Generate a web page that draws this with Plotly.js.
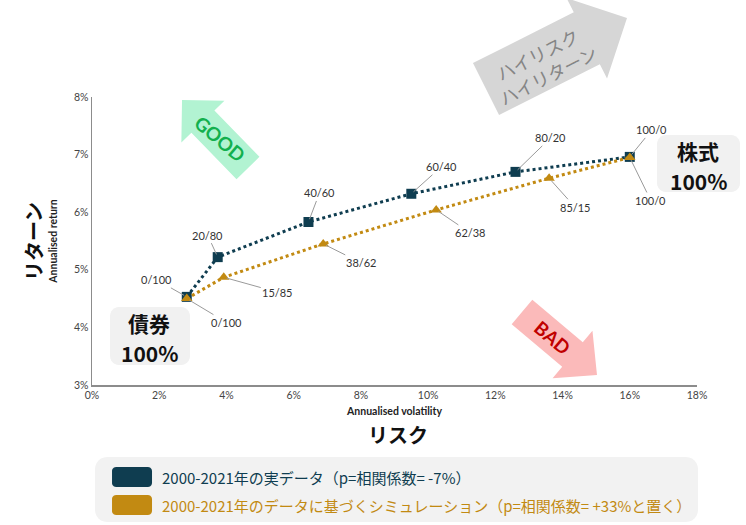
<!DOCTYPE html>
<html>
<head>
<meta charset="utf-8">
<script src="https://cdn.plot.ly/plotly-3.0.1.min.js"></script>
<style>
  html, body { margin: 0; padding: 0; background: #fff; }
  #plot { width: 746px; height: 525px; }
</style>
</head>
<body>
<div id="plot"></div>
<script>
// actual data 2000-2021
const mixActual = ['0/100', '20/80', '40/60', '60/40', '80/20', '100/0']
const volActual = [2.82, 3.74, 6.44, 9.5, 12.6, 16.0]
const retActual = [4.53, 5.22, 5.83, 6.32, 6.70, 6.96]

// simulation (correlation +33%)
const mixSim = ['0/100', '15/85', '38/62', '62/38', '85/15', '100/0']
const volSim = [2.82, 3.92, 6.88, 10.24, 13.6, 16.0]
const retSim = [4.50, 4.87, 5.45, 6.04, 6.59, 6.95]

const legendNames = [
    '2000-2021年の実データ（p=相関係数= -7%）',
    '2000-2021年のデータに基づくシミュレーション（p=相関係数= +33%と置く）'
]

// label offsets in pixels (layout only)
const offActual = [[-30, -17], [-10, -22], [11, -29], [30, -27], [35, -34], [22, -27]]
const offSim = [[40, 24], [54, 15], [38, 19], [34, 23], [26, 29], [21, 43]]

const BLUE = '#0f3d50'
const GOLD = '#c28a12'
const W = 746, H = 525
const L = 92, R = 697, T = 97, B = 385

// pixel -> paper
function px(x) { return (x - L) / (R - L) }
function py(y) { return (B - y) / (B - T) }

function polyPath(pts) {
    return pts.map(function (p, i) {
        return (i ? 'L' : 'M') + px(p[0]).toFixed(4) + ',' + py(p[1]).toFixed(4)
    }).join(' ') + ' Z'
}

function arrowPath(tail, tip, shaftW, headW, headL) {
    var dx = tip[0] - tail[0], dy = tip[1] - tail[1]
    var len = Math.sqrt(dx * dx + dy * dy)
    var ux = dx / len, uy = dy / len
    var nx = -uy, ny = ux
    var bx = tip[0] - ux * headL, by = tip[1] - uy * headL
    var s = shaftW / 2, h = headW / 2
    return polyPath([
        [tail[0] + nx * s, tail[1] + ny * s],
        [bx + nx * s, by + ny * s],
        [bx + nx * h, by + ny * h],
        tip,
        [bx - nx * h, by - ny * h],
        [bx - nx * s, by - ny * s],
        [tail[0] - nx * s, tail[1] - ny * s]
    ])
}

function roundRect(x0, y0, x1, y1, r) {
    var pts = []
    var corners = [[x1 - r, y0 + r, -90], [x1 - r, y1 - r, 0], [x0 + r, y1 - r, 90], [x0 + r, y0 + r, 180]]
    corners.forEach(function (c) {
        for (var a = 0; a <= 90; a += 15) {
            var t = (c[2] + a) * Math.PI / 180
            pts.push([c[0] + r * Math.cos(t), c[1] + r * Math.sin(t)])
        }
    })
    return polyPath(pts)
}

function shape(path, color) {
    return {
        type: 'path', xref: 'paper', yref: 'paper', path: path,
        fillcolor: color, line: { width: 0 }, layer: 'below'
    }
}

function note(x, y, text, size, color, extra) {
    var a = {
        xref: 'paper', yref: 'paper', x: px(x), y: py(y), text: text,
        showarrow: false, xanchor: 'center', yanchor: 'middle',
        font: { family: 'Noto Sans CJK JP', size: size, color: color }
    }
    return Object.assign(a, extra || {})
}

const traceActual = {
    x: volActual, y: retActual, text: mixActual,
    name: legendNames[0], type: 'scatter', mode: 'lines+markers',
    line: { color: BLUE, width: 3, dash: 'dot' },
    marker: { symbol: 'square', size: 10, color: BLUE },
    hoverinfo: 'text'
}

const traceSim = {
    x: volSim, y: retSim, text: mixSim,
    name: legendNames[1], type: 'scatter', mode: 'lines+markers',
    line: { color: GOLD, width: 3, dash: 'dot' },
    marker: { symbol: 'triangle-up', size: 10, color: GOLD },
    hoverinfo: 'text'
}

var labels = []
function addLabels(xs, ys, names, offs) {
    for (var i = 0; i < xs.length; i++) {
        labels.push({
            x: xs[i], y: ys[i], xref: 'x', yref: 'y', text: names[i],
            showarrow: true, arrowhead: 0, arrowwidth: 1, arrowcolor: '#9a9a9a',
            ax: offs[i][0], ay: offs[i][1], standoff: 3,
            font: { family: 'Lato', size: 11, color: '#333' }
        })
    }
}
addLabels(volActual, retActual, mixActual, offActual)
addLabels(volSim, retSim, mixSim, offSim)

var shapes = [
    shape(arrowPath([486, 89], [627, 18], 58, 90, 45), '#d6d6d6'),
    shape(arrowPath([248, 168], [182, 100], 32, 60, 30), '#b2f3d2'),
    shape(arrowPath([522, 312], [597, 375], 32, 62, 32), '#fbbaba'),
    shape(roundRect(110, 307, 190, 365, 9), '#f1f1f1'),
    shape(roundRect(657, 135, 740, 192, 9), '#f1f1f1'),
    shape(roundRect(95, 457, 698, 522, 12), '#f2f2f2'),
    shape(roundRect(112, 467, 152, 487, 4), BLUE),
    shape(roundRect(112, 495, 152, 515, 4), GOLD)
]

var notes = [
    note(542, 64, 'ハイリスク<br>ハイリターン', 18, '#858585', { textangle: -27 }),
    note(220, 138, '<b>GOOD</b>', 18, '#12b04e', { textangle: 40, font: { family: 'Lato', size: 19, color: '#12b04e' } }),
    note(553, 337, '<b>BAD</b>', 18, '#c00000', { textangle: 40, font: { family: 'Lato', size: 19, color: '#c00000' } }),
    note(149, 323, '<b>債券</b>', 21, '#111'),
    note(149, 353, '<b>100%</b>', 21, '#111'),
    note(698, 151, '<b>株式</b>', 21, '#111'),
    note(698, 181, '<b>100%</b>', 21, '#111'),
    note(398, 434, '<b>リスク</b>', 20, '#111'),
    note(33, 242, '<b>リターン</b>', 20, '#111', { textangle: -90 }),
    note(160, 477, legendNames[0], 15, BLUE, { xanchor: 'left' }),
    note(160, 505, legendNames[1], 15, GOLD, { xanchor: 'left' })
]

const layout = {
    width: W, height: H,
    margin: { l: L, r: W - R, t: T, b: H - B },
    paper_bgcolor: '#fff', plot_bgcolor: '#fff',
    showlegend: false,
    font: { family: 'Lato', size: 10, color: '#444' },
    xaxis: {
        range: [0, 18], dtick: 2, ticksuffix: '%',
        showgrid: false, zeroline: false, showline: true,
        linecolor: '#8c8c8c', linewidth: 1.5, ticks: '',
        tickfont: { family: 'Lato', size: 10.5, color: '#444' },
        title: { text: '<b>Annualised volatility</b>', standoff: 7,
                 font: { family: 'Lato', size: 10.5, color: '#222' } }
    },
    yaxis: {
        range: [3, 8], dtick: 1, ticksuffix: '%',
        showgrid: false, zeroline: false, showline: true,
        linecolor: '#8c8c8c', linewidth: 1.5, ticks: '',
        tickfont: { family: 'Lato', size: 10.5, color: '#444' },
        title: { text: '<b>Annualised return</b>', standoff: 14,
                 font: { family: 'Lato', size: 10.5, color: '#222' } }
    },
    shapes: shapes,
    annotations: labels.concat(notes)
}

Plotly.newPlot('plot', [traceActual, traceSim], layout, { displayModeBar: false, staticPlot: true })
</script>
</body>
</html>
